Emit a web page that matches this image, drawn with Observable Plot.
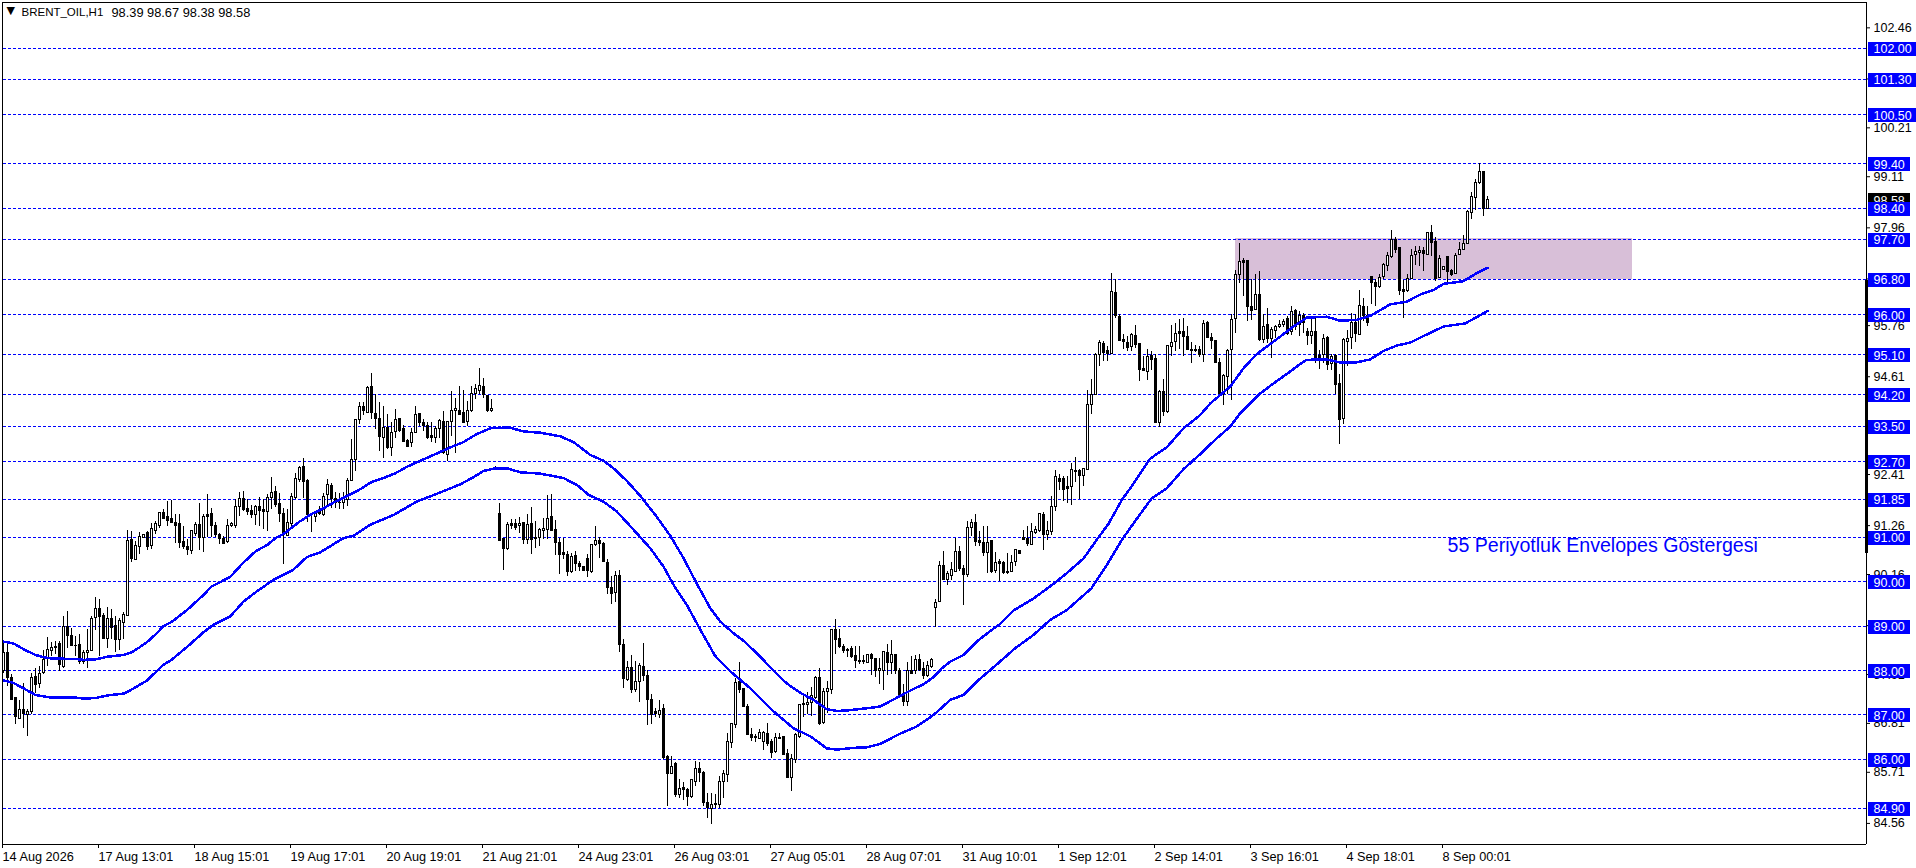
<!DOCTYPE html>
<html><head><meta charset="utf-8">
<style>html,body{margin:0;padding:0;background:#fff}svg{display:block}</style>
<script src="https://cdn.jsdelivr.net/npm/d3@7"></script>
<script src="https://cdn.jsdelivr.net/npm/@observablehq/plot@0.6"></script>
</head><body><div id="chart"></div><script>
const titleName = "BRENT_OIL,H1";
const titleValues = "98.39 98.67 98.38 98.58";
const noteText = "55 Periyotluk Envelopes Göstergesi";
const levels = [102,101.3,100.5,99.4,98.4,97.7,96.8,96,95.1,94.2,93.5,92.7,91.85,91,90,89,88,87,86,84.9];
const axisPrices = [102.46,101.31,100.21,99.11,97.96,96.81,95.76,94.61,93.51,92.41,91.26,90.16,89.01,87.91,86.81,85.71,84.56];
const lastPrice = 98.58;
const dateLabels = ["14 Aug 2026","17 Aug 13:01","18 Aug 15:01","19 Aug 17:01","20 Aug 19:01","21 Aug 21:01","24 Aug 23:01","26 Aug 03:01","27 Aug 05:01","28 Aug 07:01","31 Aug 10:01","1 Sep 12:01","2 Sep 14:01","3 Sep 16:01","4 Sep 18:01","8 Sep 00:01"];
const barsPerLabel = 24;

const highs = [
88.60,88.61,87.92,87.39,87.32,87.70,87.12,87.94,88.05,88.09,
88.45,88.75,88.62,88.65,88.65,89.22,89.33,88.95,88.76,88.80,
88.46,88.93,89.22,89.65,89.59,89.29,89.42,89.37,89.22,89.18,
89.31,91.16,91.13,90.90,91.10,91.07,91.13,91.31,91.35,91.55,
91.62,91.80,91.82,91.50,91.52,91.24,90.94,91.16,91.34,91.75,
91.50,91.97,91.64,91.32,91.09,91.02,91.39,91.33,91.84,92.01,
92.03,91.84,91.71,91.71,91.90,91.84,91.95,92.35,92.15,91.99,
91.65,91.62,91.99,92.43,92.60,92.78,92.29,91.54,91.58,91.69,
91.99,92.30,92.21,92.00,91.99,92.01,92.33,93.19,93.65,94.04,
94.02,94.40,94.69,94.20,94.02,93.94,93.75,93.57,93.88,93.68,
93.51,93.20,93.45,93.95,93.79,93.64,93.57,93.57,93.50,93.64,
93.83,93.60,94.28,94.13,94.40,94.30,94.05,94.40,94.43,94.80,
94.58,94.18,94.10,92.60,91.75,90.98,91.32,91.40,91.40,91.45,
91.34,91.50,91.67,91.35,91.20,91.43,91.93,91.95,91.37,90.98,
90.96,90.68,90.64,90.68,90.45,90.34,90.62,90.84,91.24,90.99,
90.88,90.50,90.12,90.23,90.25,88.69,88.20,88.33,88.20,88.15,
88.60,88.01,87.45,87.15,87.33,87.23,86.08,86.07,85.93,85.54,
85.47,85.35,85.55,85.95,85.92,85.73,85.23,85.23,85.20,85.62,
85.75,86.59,86.81,87.83,88.19,87.60,87.23,86.69,86.55,86.67,
86.63,86.81,86.44,86.59,86.58,86.52,86.23,86.12,86.58,87.24,
87.45,87.50,87.62,87.86,88.05,87.60,87.75,88.93,89.14,88.93,
88.59,88.50,88.54,88.55,88.55,88.33,88.37,88.39,88.28,88.28,
88.43,88.58,88.67,88.37,88.05,87.68,88.17,88.32,88.33,88.37,
88.18,88.20,88.26,89.60,90.45,90.67,90.22,90.43,90.96,90.79,
90.37,91.35,91.40,91.50,91.12,91.24,91.24,90.93,90.66,90.49,
90.45,90.64,90.58,90.73,90.71,91.14,91.24,91.31,91.25,91.53,
91.55,91.35,91.91,92.51,92.42,92.36,92.36,92.66,92.80,92.53,
92.55,94.30,94.55,95.14,95.42,95.40,95.30,96.94,96.80,96.00,
95.55,95.51,95.59,95.77,95.36,95.06,95.22,95.17,95.10,94.30,
94.54,95.32,95.77,95.80,95.90,95.92,95.73,95.37,95.32,95.29,
95.88,95.85,95.59,95.43,95.02,94.65,95.22,96.00,97.00,97.61,
97.27,97.23,96.79,96.90,96.97,96.00,96.15,95.72,95.77,95.87,
95.90,95.96,96.18,96.13,96.08,96.03,95.70,95.89,95.92,95.21,
95.55,95.51,95.10,95.12,94.67,95.47,95.66,96.03,96.00,96.54,
96.37,96.20,96.87,96.80,96.90,97.16,97.40,97.91,97.74,97.51,
96.77,96.90,97.47,97.53,97.55,97.51,97.86,98.02,97.74,97.33,
97.10,97.30,97.03,97.38,97.63,97.78,98.34,98.76,99.05,99.41,
99.22,98.67];

const lows = [
87.94,87.64,87.32,86.78,86.89,86.70,86.51,87.02,87.49,87.60,
87.92,88.09,88.32,88.35,87.98,88.05,88.50,88.54,88.32,88.13,
88.13,88.05,88.43,88.91,88.32,88.69,88.50,88.69,88.40,88.46,
88.69,89.22,90.43,90.47,90.62,90.96,90.69,90.73,91.07,91.20,
91.39,91.24,91.32,90.85,90.75,90.73,90.58,90.60,91.01,90.70,
90.65,91.00,91.00,91.00,90.83,90.83,90.85,91.22,91.20,91.46,
91.58,91.48,91.43,91.26,91.25,91.17,91.13,91.62,91.67,91.32,
90.38,91.01,91.24,91.84,92.22,91.88,91.32,91.10,91.33,91.48,
91.47,91.69,91.65,91.65,91.63,91.62,91.69,92.25,92.48,93.53,
93.73,93.79,93.64,93.42,92.93,92.76,92.98,92.81,93.21,93.35,
93.12,93.02,93.02,93.34,93.49,93.38,93.19,93.12,93.10,93.23,
92.87,92.70,93.27,92.89,93.73,93.55,93.49,93.80,94.09,94.20,
94.13,93.80,93.80,92.50,90.90,90.25,90.71,91.18,91.16,91.09,
90.83,90.84,90.62,90.75,90.79,90.94,90.94,91.13,90.59,90.17,
90.49,90.12,90.19,90.23,90.23,90.23,90.09,90.19,90.80,90.53,
90.42,89.70,89.48,89.52,88.40,87.60,87.75,87.49,87.50,87.28,
87.75,86.76,86.78,86.95,86.93,86.00,84.95,85.66,85.15,85.13,
85.07,84.95,85.13,85.39,85.47,84.95,84.68,84.53,84.90,84.90,
85.13,85.47,86.25,86.70,87.49,87.17,86.53,86.40,86.37,86.46,
86.20,86.30,86.03,86.14,86.44,86.08,85.58,85.28,85.90,86.48,
86.95,87.02,86.96,87.34,86.76,86.78,87.04,87.45,88.37,88.50,
88.39,88.30,88.28,88.05,88.13,88.13,88.17,87.89,87.85,87.68,
87.56,87.88,87.90,87.90,87.44,87.19,87.20,87.90,87.90,87.98,
87.79,87.85,88.05,88.97,89.53,90.02,89.92,90.03,90.20,90.22,
89.47,90.09,91.01,90.79,90.79,90.56,90.19,90.19,90.19,90.00,
90.15,90.15,90.20,90.35,90.62,90.92,90.80,90.82,91.05,91.10,
90.69,90.92,91.03,91.57,92.06,91.80,91.75,91.72,92.22,91.85,
92.15,92.49,93.75,94.18,94.85,94.95,94.95,95.11,95.92,95.40,
95.23,95.17,95.17,95.25,94.50,94.72,94.52,94.75,93.56,93.46,
93.71,93.79,95.07,95.17,95.23,95.06,95.19,94.90,95.15,95.05,
94.93,95.48,95.23,94.91,94.16,93.97,94.20,94.07,95.59,96.71,
96.41,95.85,95.87,96.10,95.40,95.35,95.35,95.01,95.47,95.70,
95.71,95.53,95.53,95.66,95.51,95.59,95.32,95.34,94.91,94.78,
94.91,94.76,94.76,94.20,93.09,93.54,94.83,95.23,95.37,95.54,
95.85,95.73,96.24,96.18,96.60,96.79,96.97,97.27,97.39,96.43,
95.92,96.50,96.80,97.12,97.10,96.97,97.34,97.32,96.75,96.82,
97.00,96.71,96.87,96.91,97.34,97.45,97.58,98.14,98.34,98.94,
98.21,98.38];

const opens = [
87.98,88.39,87.83,87.38,86.92,87.12,87.00,87.06,87.85,87.70,
87.94,88.28,88.43,88.54,88.60,88.09,88.97,88.78,88.56,88.58,
88.20,88.40,88.45,89.18,89.38,89.23,88.72,89.15,89.00,88.69,
89.08,89.23,90.94,90.49,90.79,90.98,91.09,90.81,91.15,91.26,
91.55,91.45,91.40,91.32,91.30,90.90,90.79,90.70,91.07,91.28,
90.98,91.50,91.52,91.26,91.04,90.95,90.90,91.25,91.26,91.67,
91.86,91.63,91.60,91.49,91.69,91.61,91.56,91.89,92.02,91.74,
91.52,91.03,91.30,91.89,92.29,92.57,92.27,91.50,91.45,91.56,
91.49,91.94,92.15,91.86,91.78,91.76,91.84,92.27,92.74,93.64,
93.92,93.80,94.37,93.77,93.67,93.23,93.45,93.00,93.36,93.65,
93.43,93.17,93.12,93.35,93.77,93.56,93.50,93.27,93.24,93.43,
93.59,92.85,93.59,93.83,93.85,93.79,93.60,93.83,94.22,94.29,
94.37,94.17,93.83,92.55,91.52,90.96,90.74,91.30,91.30,91.25,
91.32,90.94,91.30,90.98,90.99,91.13,91.16,91.45,91.16,90.88,
90.64,90.59,90.21,90.57,90.40,90.33,90.50,90.22,90.82,90.92,
90.85,90.43,89.85,89.74,90.13,88.58,87.78,88.05,87.56,87.75,
88.07,87.87,87.34,87.06,87.00,87.13,86.05,85.67,85.90,85.20,
85.35,85.32,85.15,85.50,85.78,85.69,85.01,84.89,84.98,84.98,
85.50,85.65,86.37,86.78,87.75,87.58,87.17,86.54,86.51,86.47,
86.40,86.58,86.39,86.16,86.47,86.50,86.12,85.58,85.99,86.51,
87.22,87.22,87.27,87.38,87.83,86.83,87.52,87.56,88.91,88.70,
88.54,88.46,88.48,88.33,88.22,88.21,88.18,88.35,88.26,87.98,
87.99,88.39,88.16,88.35,88.00,87.45,87.30,88.00,87.98,88.24,
88.03,87.87,88.07,89.41,89.55,90.35,90.03,90.13,90.22,90.66,
90.28,90.15,91.21,91.31,90.91,90.88,90.65,90.91,90.25,90.45,
90.43,90.22,90.22,90.45,90.69,90.99,90.97,90.83,91.10,91.14,
91.51,91.05,91.12,91.67,92.32,92.30,92.12,92.12,92.49,92.49,
92.38,92.51,93.97,94.20,95.09,95.35,95.18,95.13,96.49,95.96,
95.43,95.38,95.28,95.53,95.35,94.78,94.72,95.07,95.01,93.56,
94.26,93.81,95.29,95.40,95.61,95.61,95.50,95.21,95.22,95.21,
95.09,95.82,95.49,95.42,94.93,94.22,94.61,95.21,95.90,96.91,
97.21,97.21,96.17,96.11,96.46,95.43,95.77,95.47,95.64,95.73,
95.77,95.91,95.62,96.09,95.77,95.97,95.62,95.52,95.62,95.08,
95.10,95.48,94.90,95.07,94.44,93.66,95.40,95.49,95.83,95.55,
96.18,95.98,96.86,96.73,96.63,96.86,97.11,97.30,97.69,97.50,
96.56,96.53,96.82,97.35,97.40,97.44,97.36,97.84,97.64,96.84,
97.02,97.30,97.00,96.93,97.35,97.46,97.59,98.30,98.64,98.96,
99.21,98.39];

const closes = [
88.40,87.83,87.34,86.95,87.12,87.03,87.06,87.83,87.68,87.92,
88.24,88.47,88.50,88.50,88.13,88.99,88.77,88.55,88.55,88.20,
88.40,88.45,89.15,89.38,89.20,88.72,89.15,88.96,88.69,89.12,
89.25,90.92,90.50,90.80,91.00,91.05,90.79,91.18,91.30,91.54,
91.40,91.37,91.32,91.26,90.88,90.79,90.71,91.13,91.28,90.98,
91.45,91.46,91.26,91.05,90.95,90.85,91.26,91.30,91.67,91.86,
91.61,91.57,91.50,91.67,91.58,91.56,91.88,91.99,91.73,91.52,
91.06,91.31,91.90,92.30,92.55,92.25,91.50,91.49,91.55,91.52,
91.91,92.18,91.86,91.76,91.76,91.87,92.27,92.74,93.64,93.92,
93.83,94.35,93.79,93.65,93.25,93.45,93.00,93.34,93.64,93.38,
93.15,93.02,93.34,93.74,93.56,93.50,93.23,93.24,93.44,93.61,
92.89,93.59,93.83,93.88,93.75,93.58,93.83,94.22,94.33,94.40,
94.20,93.83,93.88,92.51,90.92,90.74,91.27,91.26,91.20,91.29,
90.94,91.28,90.94,90.95,91.16,91.18,91.40,91.15,90.88,90.60,
90.59,90.21,90.55,90.40,90.34,90.25,90.23,90.83,90.92,90.84,
90.44,89.85,89.72,90.12,88.58,87.80,88.05,87.56,87.75,88.10,
87.87,87.34,87.00,87.03,87.10,86.03,85.67,85.82,85.20,85.33,
85.32,85.15,85.53,85.78,85.69,85.01,84.90,84.97,85.00,85.50,
85.67,86.39,86.79,87.72,87.56,87.19,86.55,86.49,86.49,86.59,
86.59,86.35,86.14,86.48,86.49,86.10,85.59,86.00,86.55,87.23,
87.24,87.28,87.42,87.83,86.80,87.51,87.58,88.91,88.69,88.52,
88.43,88.43,88.30,88.21,88.20,88.19,88.35,88.26,87.98,88.03,
88.41,88.16,88.35,87.98,87.45,87.30,87.98,87.92,88.24,88.01,
87.87,88.10,88.24,89.53,90.36,90.03,90.17,90.26,90.66,90.28,
90.15,91.20,91.31,90.90,90.86,90.65,90.88,90.22,90.43,90.39,
90.19,90.19,90.43,90.71,90.63,90.93,90.85,91.11,91.16,91.52,
91.05,91.14,91.67,92.35,92.25,92.06,92.08,92.51,92.47,92.38,
92.53,93.97,94.20,95.11,95.36,95.15,95.13,96.51,95.98,95.42,
95.40,95.25,95.54,95.33,94.76,94.75,95.05,94.99,93.58,94.26,
93.81,95.30,95.38,95.57,95.57,95.51,95.21,95.19,95.20,95.10,
95.79,95.49,95.42,94.93,94.22,94.63,95.19,95.89,96.91,97.20,
97.18,96.19,96.09,96.45,95.43,95.73,95.47,95.66,95.73,95.77,
95.84,95.57,96.07,95.73,95.97,95.81,95.53,95.62,95.04,95.04,
95.47,94.87,95.06,94.42,93.63,95.44,95.47,95.83,95.57,96.20,
95.98,95.83,96.72,96.63,96.84,97.12,97.32,97.69,97.47,96.54,
96.52,96.82,97.33,97.41,97.45,97.38,97.84,97.62,96.82,97.27,
97.08,96.97,96.91,97.33,97.47,97.59,98.31,98.66,98.98,99.21,
98.38,98.58];

const upperBars = [0,2.5,5,8,10,12,18,20,23,26,30,32,34,36,38,40,42,46,50,52,54,56.7,60,63,66,68,70,74,77,80,82.5,86,89,92,95,98,101,105,109,112.5,115,118.3,121.7,126.3,130,134.2,139.2,142.5,146.7,150,152.5,155.8,159.2,163.3,166.7,170,173.3,176.7,179.2,182.5,185,188.3,192.5,195.8,199.2,202.5,205.8,208.3,210.8,215.8,219.2,224.2,226.7,230,232.5,234.6,236.7,240,243.3,246.7,249.2,252.5,257.5,262.5,265.8,270,273.3,276.25,279.6,282,286.7,290.8,295,299.2,301.7,306.7,310,313.3,317.5,322.5,325.8,330.8,334.2,338.3,341.7,346.7,350.8,354.2,357.5,360,365,368.3,371];
const upperBand = [88.65,88.61,88.48,88.35,88.30,88.27,88.26,88.24,88.25,88.31,88.35,88.41,88.52,88.65,88.81,89.00,89.09,89.37,89.70,89.89,89.98,90.11,90.43,90.68,90.83,90.98,91.07,91.35,91.52,91.65,91.78,91.93,92.07,92.24,92.33,92.44,92.59,92.75,92.91,93.05,93.14,93.32,93.45,93.47,93.38,93.35,93.27,93.14,92.85,92.72,92.55,92.27,91.93,91.46,91.03,90.53,89.96,89.40,89.10,88.84,88.67,88.39,88.00,87.71,87.50,87.34,87.13,87.09,87.10,87.15,87.19,87.43,87.55,87.69,87.85,88.05,88.20,88.35,88.65,88.89,89.05,89.35,89.62,89.95,90.19,90.52,90.94,91.30,91.84,92.14,92.77,93.02,93.45,93.75,94.01,94.39,94.80,95.12,95.40,95.74,95.94,95.96,95.87,95.89,95.98,96.24,96.30,96.46,96.56,96.70,96.76,96.94,97.06];

const lowerBars = [0,2.5,5,8,12,18,20,23,26,30,32,35.8,40,42,46,50,52.5,56.7,60,63.3,67.5,72.5,75.8,79.2,85,87.5,91.7,97.5,103.3,109,114.2,117.5,120,122.9,126.3,129.2,134.2,140,143.3,146.3,150,153.3,157.5,161.7,165,167.5,170.8,174.2,177.9,181.7,186.7,192.5,197.5,201.7,205.8,208.3,212.5,215.8,219.2,224.2,228.3,232.5,235,236.7,240,243.8,246.7,250,252.9,257.5,261.7,265.8,272,275.8,279.6,282.5,287,290.8,295,299.2,303,306.7,309.2,313.7,317.5,320.8,324.2,325.8,330.8,334.2,338,341.7,345,348.3,351.7,355.8,360,365.4,368.3,371];
const lowerBand = [87.78,87.72,87.60,87.45,87.39,87.39,87.37,87.38,87.44,87.48,87.57,87.77,88.13,88.24,88.54,88.86,89.03,89.22,89.55,89.78,90.04,90.27,90.55,90.66,90.98,91.03,91.28,91.50,91.80,92.00,92.19,92.35,92.49,92.55,92.54,92.46,92.43,92.33,92.18,91.95,91.80,91.58,91.17,90.75,90.34,89.93,89.48,88.92,88.33,87.98,87.60,87.08,86.70,86.52,86.25,86.22,86.26,86.27,86.35,86.58,86.74,87.00,87.20,87.34,87.45,87.79,88.01,88.27,88.50,88.80,89.14,89.36,89.85,90.37,90.94,91.31,91.87,92.10,92.53,92.87,93.20,93.49,93.79,94.20,94.46,94.67,94.90,94.99,95.00,94.93,94.93,95.00,95.19,95.31,95.38,95.56,95.74,95.81,95.95,96.09];

const zoneTop = 97.72, zoneBottom = 96.8, zoneStartBar = 308, zoneEndBar = 407.25;
const scrollTop = 96.78, scrollBottom = 90.64;
const priceDomain = [84.0855, 103.0305], barDomain = [0, 465.75], frameLeftBar = -0.25;
const tagStart = 466.25, tagEnd = 476.75, tagEndWide = 478.25, tagText = 467.5;
const noteBar = 361, notePrice = 90.8;

const blue = "#0000ff", font = "Liberation Sans, Arial, sans-serif";
const crisp = {shapeRendering: "crispEdges"};
const bars = d3.range(highs.length);
const up = bars.filter(i => closes[i] >= opens[i]);
const down = bars.filter(i => closes[i] < opens[i]);
const body = (idx, fill) => Plot.rect(idx, {x1: i => i - 0.25, x2: i => i + 0.25, y1: i => opens[i], y2: i => closes[i], fill, stroke: "#000", strokeWidth: 1, ...crisp});
const bandLine = (xs, ys) => Plot.line(xs.map((x, i) => ({x, y: ys[i]})), {x: "x", y: "y", stroke: blue, strokeWidth: 2.5, ...crisp});
const tagX2 = d => d >= 100 ? tagEndWide : tagEnd;

const chart = Plot.plot({
  width: 1916, height: 868, marginLeft: 3, marginRight: 50, marginTop: 2, marginBottom: 24,
  x: {type: "linear", domain: barDomain, axis: null},
  y: {type: "linear", domain: priceDomain, axis: null},
  style: {fontFamily: font, fontSize: "12.5px", background: "#fff", color: "#000"},
  marks: [
    Plot.rect([0], {x1: zoneStartBar, x2: zoneEndBar, y1: zoneBottom, y2: zoneTop, fill: "#d8bfd8", ...crisp}),
    Plot.ruleY(levels, {stroke: blue, strokeWidth: 1, strokeDasharray: "3,2", ...crisp}),
    Plot.ruleX(bars, {x: i => i, y1: i => lows[i], y2: i => highs[i], stroke: "#000", strokeWidth: 1, ...crisp}),
    body(up, "#fff"),
    body(down, "#000"),
    bandLine(upperBars, upperBand),
    bandLine(lowerBars, lowerBand),
    Plot.ruleX([frameLeftBar, barDomain[1]], {y1: priceDomain[0], y2: priceDomain[1], stroke: "#000", ...crisp}),
    Plot.ruleY(priceDomain, {x1: frameLeftBar, x2: barDomain[1], stroke: "#000", ...crisp}),
    Plot.ruleX([barDomain[1]], {y1: scrollTop, y2: scrollBottom, stroke: "#000", strokeWidth: 3, ...crisp}),
    Plot.axisY({anchor: "right", ticks: axisPrices, tickFormat: d3.format(".2f"), tickSize: 3, tickPadding: 4, fontSize: 12.5, label: null, stroke: "#000", fill: "#000"}),
    Plot.axisX({anchor: "bottom", ticks: dateLabels.map((_, i) => i * barsPerLabel), tickFormat: d => dateLabels[d / barsPerLabel], tickSize: 4, tickPadding: 3, textAnchor: "start", dx: -1, fontSize: 12.7, label: null, stroke: "#000", fill: "#000"}),
    Plot.ruleY([lastPrice], {x1: tagStart, x2: tagEnd, stroke: "#000", strokeWidth: 14, ...crisp}),
    Plot.text([lastPrice], {x: tagText, y: d => d, text: d => d.toFixed(2), fill: "#fff", textAnchor: "start", fontSize: 12.5, dy: 1}),
    Plot.ruleY(levels, {x1: tagStart, x2: tagX2, stroke: blue, strokeWidth: 14, dy: 0.5, ...crisp}),
    Plot.text(levels, {x: tagText, y: d => d, text: d => d.toFixed(2), fill: "#fff", textAnchor: "start", fontSize: 12.5, dy: 1}),
    Plot.text([noteText], {x: noteBar, y: notePrice, text: d => d, fill: blue, textAnchor: "start", fontSize: 19.6}),
    Plot.text([titleName], {frameAnchor: "top-left", text: d => d, dx: 18, dy: 5, fontSize: 11.5, textAnchor: "start", fill: "#000"}),
    Plot.text([titleValues], {frameAnchor: "top-left", text: d => d, dx: 108, dy: 5, fontSize: 12.8, textAnchor: "start", fill: "#000"}),
    Plot.text(["▼"], {frameAnchor: "top-left", text: d => d, dx: 3, dy: 4, fontSize: 11, textAnchor: "start", fill: "#000", fontFamily: "DejaVu Sans"})
  ]
});
document.getElementById("chart").appendChild(chart);
</script></body></html>
